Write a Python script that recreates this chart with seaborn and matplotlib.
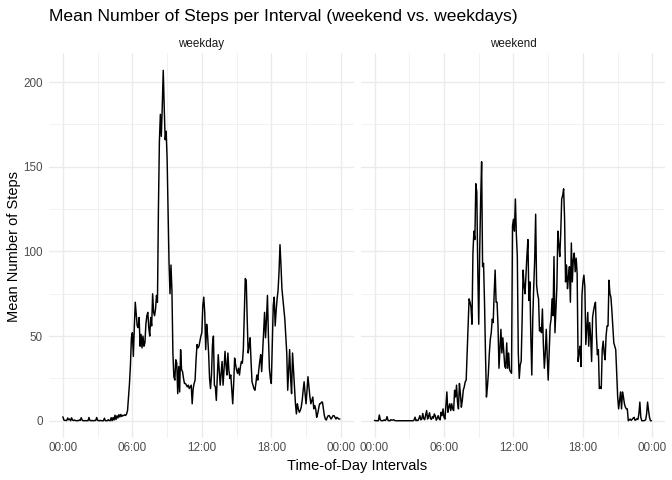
import numpy as np
import pandas as pd
import matplotlib
matplotlib.use("Agg")
import matplotlib.pyplot as plt
import seaborn as sns

# mean steps per 5-minute interval
weekday_steps = [
    2.3, 0.4, 0.2, 0.2, 0.1, 1.6, 0.6, 1.0, 0.0, 1.7, 0.4, 0.1,
    0.4, 0.1, 0.0, 0.1, 0.0, 0.4, 0.2, 1.8, 0.3, 0.0, 0.0, 0.1,
    0.0, 0.0, 0.0, 1.9, 0.1, 0.0, 0.2, 0.0, 0.0, 0.2, 0.1, 1.9,
    0.3, 0.0, 0.0, 0.2, 0.0, 0.0, 0.0, 1.5, 0.0, 0.0, 0.0, 0.6,
    0.1, 0.0, 1.8, 0.0, 1.9, 0.4, 3.3, 0.7, 2.9, 1.6, 3.6, 2.2,
    3.7, 2.5, 3.2, 3.0, 3.5, 3.1, 4.0, 6.0, 14, 22, 33, 49,
    52, 38, 55, 70, 63, 56, 55, 61, 44, 51, 43, 50,
    44, 46, 57, 62, 64, 55, 50, 61, 56, 75, 64, 62,
    66, 74, 70, 125, 165, 181, 168, 186, 207, 185, 166, 171,
    155, 125, 93, 75, 92, 77, 40, 26, 24, 36, 34, 16,
    32, 17, 42, 30, 29, 25, 22, 22, 21, 20, 21, 19,
    20, 21, 10, 19, 22, 24, 36, 45, 43, 44, 47, 50,
    52, 68, 73, 64, 42, 57, 50, 40, 25, 19, 27, 45,
    50, 21, 20, 12, 25, 39, 30, 21, 28, 35, 21, 30,
    41, 33, 27, 40, 30, 25, 27, 18, 10, 22, 37, 33,
    30, 28, 31, 27, 32, 35, 34, 42, 62, 84, 83, 60,
    40, 44, 49, 35, 23, 21, 19, 18, 22, 27, 24, 30,
    35, 39, 29, 40, 52, 64, 49, 60, 74, 50, 31, 25,
    22, 45, 68, 73, 56, 65, 72, 77, 88, 104, 92, 78,
    72, 66, 60, 50, 40, 18, 30, 42, 25, 16, 40, 30,
    21, 10, 4, 10, 7, 5, 6, 8, 12, 18, 23, 16,
    10, 18, 26, 20, 14, 10, 12, 14, 7, 9, 7, 2,
    4, 7, 10, 10, 11, 11, 7, 3, 1, 0.4, 2, 3,
    3, 2, 1, 2, 3, 3, 2, 1, 2, 1.5, 1, 1,
]

weekend_steps = [
    0.2, 0.0, 0.0, 0.0, 0.0, 3.4, 0.5, 0.0, 0.0, 0.1, 0.5, 0.1,
    0.6, 2.4, 0.2, 0.0, 0.0, 0.6, 0.3, 0.4, 0.6, 0.1, 0.0, 0.0,
    0.0, 0.0, 0.0, 0.0, 0.0, 0.0, 0.0, 0.0, 0.0, 0.0, 0.0, 0.0,
    0.0, 0.0, 0.0, 0.0, 0.0, 0.4, 2.1, 0.0, 0.3, 0.1, 1.2, 3.0,
    0.5, 1.0, 4.3, 1.2, 0.6, 3.4, 6.0, 1.0, 2.5, 4.7, 1.2, 0.8,
    2.5, 1.5, 4.0, 2.8, 0.3, 1.5, 3.0, 1.0, 0.5, 5.0, 3.0, 7.0,
    2.0, 1.0, 9.0, 17, 5.0, 8.0, 10, 6.0, 10, 7.0, 6.0, 18,
    14, 21, 11, 7, 22, 16, 8, 12, 18, 20, 23, 24,
    40, 57, 72, 70, 67, 57, 99, 112, 107, 140, 135, 90,
    57, 100, 130, 153, 91, 93, 70, 40, 14, 20, 28, 40,
    48, 52, 60, 58, 75, 89, 70, 70, 56, 31, 42, 54,
    40, 49, 40, 32, 31, 46, 31, 40, 30, 29, 28, 115,
    119, 112, 131, 110, 97, 40, 25, 33, 35, 60, 89, 80,
    75, 87, 98, 107, 71, 82, 50, 27, 60, 79, 95, 122,
    80, 75, 72, 53, 55, 52, 66, 45, 31, 40, 54, 38,
    24, 40, 56, 60, 72, 62, 97, 52, 65, 79, 112, 104,
    97, 111, 131, 133, 137, 119, 82, 92, 78, 85, 91, 70,
    105, 82, 95, 99, 88, 96, 87, 35, 40, 44, 32, 74,
    82, 86, 79, 45, 55, 64, 44, 58, 50, 35, 61, 65,
    68, 70, 50, 39, 42, 19, 20, 19, 42, 47, 40, 36,
    50, 56, 56, 83, 75, 73, 65, 56, 46, 44, 42, 28,
    14, 7, 12, 17, 7, 17, 14, 10, 8, 7, 7, 0,
    0.5, 1, 0.2, 0.8, 1.5, 2, 0.3, 0.5, 1.2, 0.8, 4, 11,
    2, 0, 0, 0, 0.2, 0.5, 4, 11, 6, 2, 0, 0,
]

day_types = ["weekday", "weekend"]
interval_minutes = np.arange(0, 1440, 5)
x_tick_minutes = [0, 360, 720, 1080, 1440]
x_tick_labels = ["00:00", "06:00", "12:00", "18:00", "00:00"]
y_ticks = [0, 50, 100, 150, 200]

assert len(weekday_steps) == 288 and len(weekend_steps) == 288

df = pd.DataFrame({
    "interval": np.concatenate([interval_minutes, interval_minutes]),
    "steps": weekday_steps + weekend_steps,
    "daytype": ["weekday"] * 288 + ["weekend"] * 288,
})

sns.set_theme(style="white")
plt.rcParams["font.family"] = ["Liberation Sans", "DejaVu Sans"]

fig, axes = plt.subplots(1, 2, sharey=True, figsize=(6.72, 4.8), dpi=100)
fig.subplots_adjust(left=0.073, right=0.99, bottom=0.087, top=0.89, wspace=0.023)

for ax, day in zip(axes, day_types):
    sub = df[df["daytype"] == day]
    sns.lineplot(data=sub, x="interval", y="steps", ax=ax, color="black", linewidth=1.05)
    ax.margins(x=0.05, y=0.05)
    ax.set_xticks(x_tick_minutes)
    ax.set_xticklabels(x_tick_labels)
    ax.set_xticks([180, 540, 900, 1260], minor=True)
    ax.set_yticks(y_ticks)
    ax.set_yticks([25, 75, 125, 175], minor=True)
    ax.grid(True, which="major", color="#EBEBEB", linewidth=1.0)
    ax.grid(True, which="minor", color="#EBEBEB", linewidth=0.5)
    ax.set_axisbelow(True)
    for side in ax.spines.values():
        side.set_visible(False)
    ax.tick_params(axis="both", which="both", length=0, labelsize=8.4,
                   labelcolor="#4D4D4D")
    ax.tick_params(axis="x", pad=3)
    ax.tick_params(axis="y", pad=4.5)
    ax.set_xlabel("")
    ax.set_ylabel("")
    ax.annotate(day, xy=(0.5, 1.0), xycoords="axes fraction", xytext=(0, 6.5),
                textcoords="offset points", ha="center", va="center",
                fontsize=8.4, color="#1A1A1A")

# title sits flush with the left edge of the panels
fig.text(49 / 672, 1 - 16 / 480, "Mean Number of Steps per Interval (weekend vs. weekdays)",
         ha="left", va="center", fontsize=12.6, color="black")
fig.text(14 / 672, 1 - 246 / 480, "Mean Number of Steps", rotation=90,
         ha="center", va="center", fontsize=10.5, color="black")
fig.text(357 / 672, 1 - 466 / 480, "Time-of-Day Intervals",
         ha="center", va="center", fontsize=10.5, color="black")

fig.savefig("out.png", dpi=100)
